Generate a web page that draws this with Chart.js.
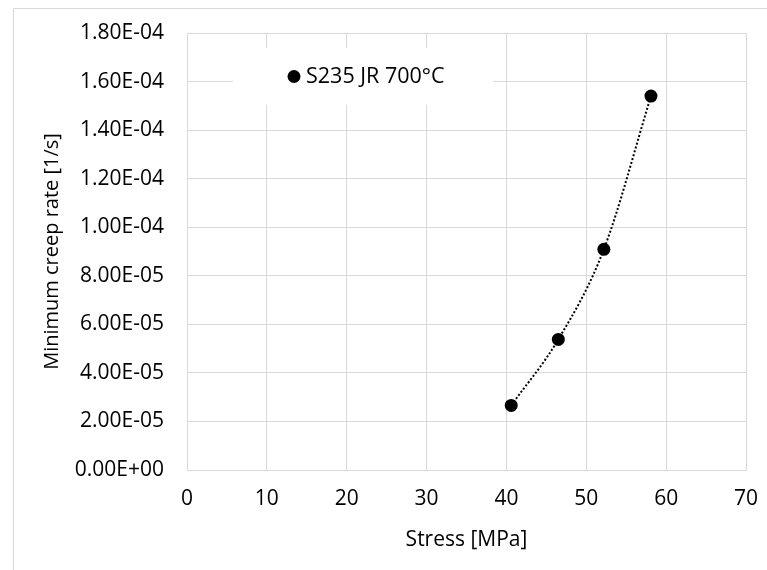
<!DOCTYPE html>
<html>
<head>
<meta charset="utf-8">
<script src="https://cdn.jsdelivr.net/npm/chart.js@4"></script>
<style>
  body { margin: 0; background: #fff; }
  #wrap { position: relative; width: 767px; height: 570px; }
  #frame { position: absolute; left: 13px; top: 8px; right: -2px; bottom: -2px;
           border-left: 1px solid #d9d9d9; border-top: 1px solid #d9d9d9; pointer-events: none; }
</style>
</head>
<body>
<div id="wrap">
  <canvas id="creepChart" width="767" height="570"></canvas>
  <div id="frame"></div>
</div>
<script>
// values
const seriesName = 'S235 JR 700°C';
const stress = [40.6, 46.5, 52.2, 58.1];
const creepRate = [2.66e-5, 5.38e-5, 9.09e-5, 1.54e-4];
const xTicks = [0, 10, 20, 30, 40, 50, 60, 70];
const yTicks = [0, 2e-5, 4e-5, 6e-5, 8e-5, 1e-4, 1.2e-4, 1.4e-4, 1.6e-4, 1.8e-4];

const FONT = '"Open Sans", "Noto Sans", sans-serif';

function sci(v) {
    if (Math.abs(v) < 1e-12) return '0.00E+00';
    var s = v.toExponential(2).toUpperCase();
    var parts = s.split('E');
    var exp = parseInt(parts[1], 10);
    var sign = exp < 0 ? '-' : '+';
    var e = Math.abs(exp);
    return parts[0] + 'E' + sign + (e < 10 ? '0' + e : e);
}

const points = stress.map((x, i) => ({ x: x, y: creepRate[i] }));

// legend drawn inside the plot on a white box, like the original
const insideLegend = {
    id: 'insideLegend',
    beforeDatasetsDraw(chart) {
        const ctx = chart.ctx;
        const a = chart.chartArea;
        const bx = a.left + 46, by = a.top + 15;
        ctx.save();
        ctx.fillStyle = '#fff';
        ctx.fillRect(bx, by, 260, 57);
        ctx.fillStyle = '#000';
        ctx.beginPath();
        ctx.arc(bx + 61, by + 28.5, 6.5, 0, Math.PI * 2);
        ctx.fill();
        ctx.font = '21.5px ' + FONT;
        ctx.textBaseline = 'middle';
        ctx.textAlign = 'left';
        ctx.fillText(seriesName, bx + 73, by + 28.5);
        ctx.restore();
    }
};

const config = {
    type: 'scatter',
    data: {
        datasets: [
            {
                label: seriesName,
                data: points,
                backgroundColor: '#000',
                borderColor: '#000',
                pointRadius: 6.5,
                pointHoverRadius: 6.5,
                borderWidth: 0,
                order: 0
            },
            {
                label: 'trend',
                data: points,
                showLine: true,
                pointRadius: 0,
                borderColor: '#000',
                borderWidth: 2,
                borderDash: [2, 2],
                cubicInterpolationMode: 'monotone',
                fill: false,
                order: 1
            }
        ]
    },
    options: {
        responsive: false,
        animation: false,
        layout: { padding: { left: 0, top: 33, right: 21, bottom: 0 } },
        scales: {
            x: {
                type: 'linear',
                min: 0,
                max: 70,
                afterBuildTicks: s => { s.ticks = xTicks.map(v => ({ value: v })); },
                afterFit: s => { s.height = 100; s.paddingLeft = 0; s.paddingRight = 0; },
                grid: { color: '#d9d9d9', drawTicks: false },
                border: { color: '#d9d9d9' },
                ticks: { color: '#000', padding: 16, font: { family: FONT, size: 21 } },
                title: {
                    display: true,
                    text: 'Stress [MPa]',
                    color: '#000',
                    font: { family: FONT, size: 21 },
                    padding: { top: 0, bottom: 17 }
                }
            },
            y: {
                type: 'linear',
                min: 0,
                max: 1.8e-4,
                afterBuildTicks: s => { s.ticks = yTicks.map(v => ({ value: v })); },
                afterFit: s => { s.width = 187; s.paddingTop = 0; s.paddingBottom = 0; },
                grid: { color: '#d9d9d9', drawTicks: false },
                border: { color: '#d9d9d9' },
                ticks: {
                    color: '#000',
                    padding: 23,
                    font: { family: FONT, size: 21 },
                    callback: v => sci(v)
                },
                title: {
                    display: true,
                    text: 'Minimum creep rate [1/s]',
                    color: '#000',
                    font: { family: FONT, size: 20 },
                    padding: { top: 40, bottom: 0 }
                }
            }
        },
        plugins: {
            legend: { display: false },
            tooltip: { enabled: false }
        }
    },
    plugins: [insideLegend]
};

var ctx = document.getElementById('creepChart').getContext('2d');
var creepChart = new Chart(ctx, config);
</script>
</body>
</html>
